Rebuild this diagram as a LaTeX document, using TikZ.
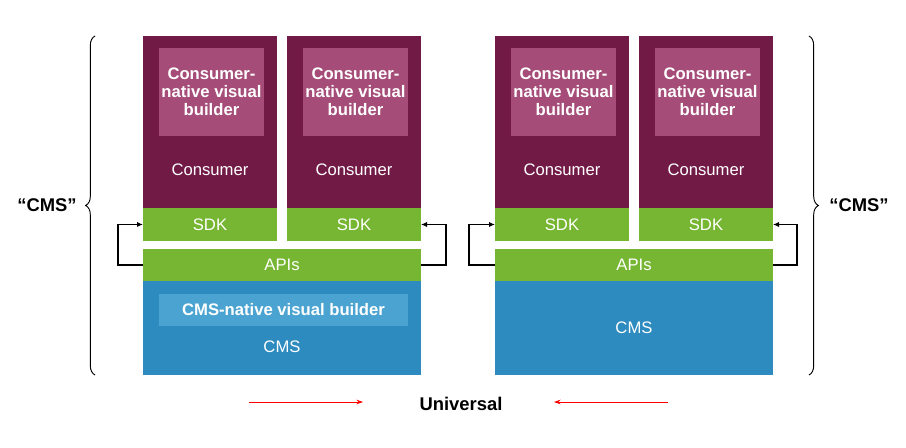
\documentclass[tikz,border=0pt]{standalone}
\usepackage{fontspec}
\setmainfont{Liberation Sans}
\usetikzlibrary{arrows.meta}
\usetikzlibrary{fit}
\usetikzlibrary{decorations.pathreplacing}

\definecolor{consumerpurple}{RGB}{114,26,70}
\definecolor{builderpink}{RGB}{165,77,120}
\definecolor{sdkgreen}{RGB}{118,182,51}
\definecolor{cmsblue}{RGB}{46,139,192}
\definecolor{builderblue}{RGB}{74,163,208}

\begin{document}
\begin{tikzpicture}[x=0.75pt,y=-0.75pt,
    block/.style={inner sep=0pt,outer sep=0pt},
    txt/.style={text=white,align=center,font=\fontsize{12.5}{13.3}\selectfont},
    boldtxt/.style={txt,font=\fontsize{12.5}{13.3}\selectfont\bfseries},
    link/.style={line width=0.9pt,-{Latex[length=4.5pt,width=4pt]}},
    redlink/.style={red,line width=0.6pt,-{Stealth[length=5pt,width=3.5pt]}},
    bracket/.style={line width=0.7pt,decorate,decoration={brace,amplitude=7pt}},
    heading/.style={font=\fontsize{13.8}{15}\selectfont\bfseries}]

    \useasboundingbox (0,0) rectangle (906,448);

    % consumer columns with builder and SDK
    \foreach \i/\x in {1/143,2/287,3/495,4/639} {
      \node[block,fill=consumerpurple,fit={(\x,36) (\x+134,208)}] (con\i) {};
      \node[block,fill=builderpink,fit={(\x+16,48) (\x+121,136)}] (vb\i) {};
      \node[boldtxt] (lvb\i) at (vb\i.center) {Consumer-\\native visual\\builder};
      \node[txt] (lcon\i) at (\x+67,170) {Consumer};
      \node[block,fill=sdkgreen,fit={(\x,208) (\x+134,241)}] (sdk\i) {};
      \node[txt] (lsdk\i) at (sdk\i.center) {SDK};
    }

    % APIs and CMS
    \node[block,fill=sdkgreen,fit={(143,249) (421,281)}] (api1) {};
    \node[block,fill=sdkgreen,fit={(495,249) (773,281)}] (api2) {};
    \node[txt] (lapi1) at (api1.center) {APIs};
    \node[txt] (lapi2) at (api2.center) {APIs};
    \node[block,fill=cmsblue,fit={(143,281) (421,375)}] (cms1) {};
    \node[block,fill=builderblue,fit={(159,294) (408,326)}] (cvb) {};
    \node[boldtxt] (lcvb) at (cvb.center) {CMS-native visual builder};
    \node[txt] (lcms1) at (282,347) {CMS};
    \node[block,fill=cmsblue,fit={(495,281) (773,375)}] (cms2) {};
    \node[txt] (lcms2) at (cms2.center) {CMS};

    % arrows from APIs to SDK
    \draw[link] (api1.west) -- ++(-25,0) |- (sdk1.west);
    \draw[link] (api1.east) -- ++(25,0) |- (sdk2.east);
    \draw[link] (api2.west) -- ++(-26,0) |- (sdk3.west);
    \draw[link] (api2.east) -- ++(24,0) |- (sdk4.east);

    % braces
    \draw[bracket] (95,375) -- (95,36);
    \draw[bracket] (809,36) -- (809,375);
    \node[heading] (cmsl) at (47,205) {“CMS”};
    \node[heading] (cmsr) at (859,205) {“CMS”};

    % universal
    \node[heading] (univ) at (461,404) {Universal};
    \coordinate (ua) at (249,402);
    \coordinate (ub) at (363,402);
    \coordinate (uc) at (668,402);
    \coordinate (ud) at (554,402);
    \draw[redlink] (ua) -- (ub);
    \draw[redlink] (uc) -- (ud);

\end{tikzpicture}
\end{document}
